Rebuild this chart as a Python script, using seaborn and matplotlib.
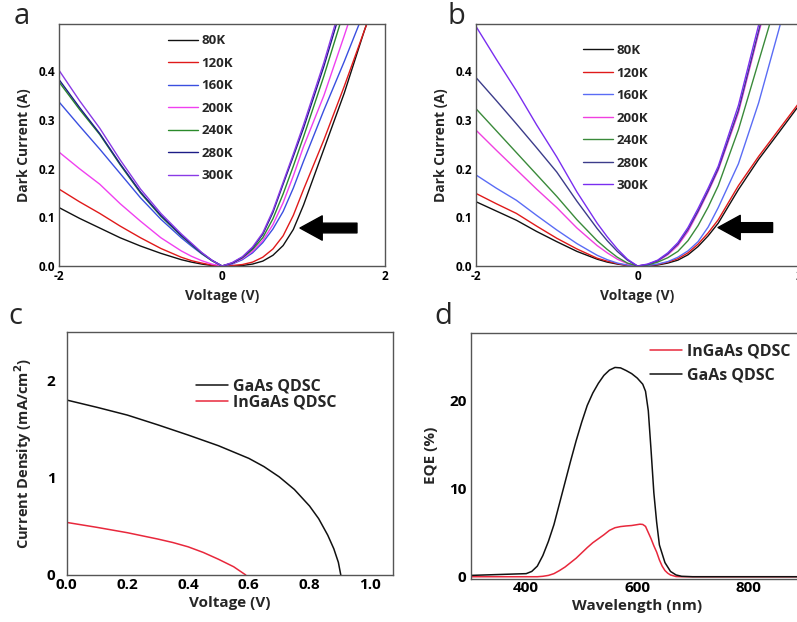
import matplotlib
matplotlib.use('Agg')
import matplotlib.pyplot as plt
import seaborn as sns
import pandas as pd
import numpy as np

sns.set_theme(style='white')
plt.rcParams['font.family'] = ['Open Sans', 'DejaVu Sans']
plt.rcParams['font.weight'] = 'bold'
plt.rcParams['axes.labelweight'] = 'bold'

# ---- data: dark current vs voltage (panels a, b) ----
temps = ['80K', '120K', '160K', '200K', '240K', '280K', '300K']
volts = [-2, -1.75, -1.5, -1.25, -1, -0.75, -0.5, -0.375, -0.25, -0.125, 0,
         0.125, 0.25, 0.375, 0.5, 0.625, 0.75, 0.875, 1.0, 1.25, 1.5, 1.75, 2.0]

dark_a = {
    '80K':  [0.120, 0.098, 0.078, 0.058, 0.041, 0.026, 0.013, 0.008, 0.004, 0.001, 0,
             0.000, 0.001, 0.004, 0.010, 0.022, 0.042, 0.075, 0.125, 0.240, 0.355, 0.485, 0.600],
    '120K': [0.158, 0.132, 0.108, 0.082, 0.058, 0.036, 0.018, 0.011, 0.006, 0.002, 0,
             0.001, 0.003, 0.008, 0.018, 0.035, 0.062, 0.104, 0.157, 0.259, 0.369, 0.485, 0.600],
    '160K': [0.337, 0.288, 0.240, 0.190, 0.140, 0.096, 0.058, 0.041, 0.025, 0.011, 0,
             0.004, 0.013, 0.027, 0.048, 0.076, 0.112, 0.160, 0.215, 0.320, 0.420, 0.525, 0.630],
    '200K': [0.234, 0.200, 0.168, 0.128, 0.092, 0.058, 0.031, 0.020, 0.011, 0.004, 0,
             0.005, 0.015, 0.030, 0.052, 0.085, 0.130, 0.185, 0.245, 0.350, 0.473, 0.600, 0.720],
    '240K': [0.378, 0.322, 0.270, 0.208, 0.150, 0.102, 0.062, 0.044, 0.026, 0.011, 0,
             0.006, 0.017, 0.034, 0.058, 0.097, 0.148, 0.205, 0.265, 0.390, 0.525, 0.660, 0.800],
    '280K': [0.383, 0.326, 0.272, 0.210, 0.152, 0.104, 0.063, 0.045, 0.027, 0.012, 0,
             0.006, 0.018, 0.037, 0.065, 0.110, 0.168, 0.225, 0.283, 0.410, 0.550, 0.690, 0.830],
    '300K': [0.402, 0.340, 0.283, 0.218, 0.158, 0.108, 0.066, 0.047, 0.028, 0.012, 0,
             0.007, 0.019, 0.039, 0.068, 0.114, 0.172, 0.230, 0.290, 0.418, 0.560, 0.700, 0.840],
}

dark_b = {
    '80K':  [0.132, 0.113, 0.094, 0.071, 0.050, 0.030, 0.014, 0.008, 0.004, 0.001, 0,
             0.000, 0.002, 0.006, 0.012, 0.023, 0.040, 0.062, 0.088, 0.157, 0.219, 0.274, 0.330],
    '120K': [0.149, 0.128, 0.108, 0.082, 0.057, 0.035, 0.016, 0.010, 0.005, 0.001, 0,
             0.001, 0.003, 0.008, 0.015, 0.027, 0.045, 0.068, 0.095, 0.165, 0.225, 0.280, 0.335],
    '160K': [0.187, 0.160, 0.135, 0.104, 0.074, 0.046, 0.022, 0.013, 0.006, 0.002, 0,
             0.001, 0.004, 0.009, 0.018, 0.031, 0.050, 0.080, 0.120, 0.210, 0.335, 0.485, 0.640],
    '200K': [0.279, 0.238, 0.198, 0.158, 0.120, 0.078, 0.042, 0.027, 0.014, 0.005, 0,
             0.003, 0.010, 0.023, 0.042, 0.071, 0.110, 0.152, 0.197, 0.315, 0.478, 0.630, 0.780],
    '240K': [0.323, 0.278, 0.233, 0.188, 0.143, 0.095, 0.052, 0.034, 0.018, 0.006, 0,
             0.002, 0.008, 0.017, 0.030, 0.052, 0.083, 0.121, 0.165, 0.280, 0.420, 0.560, 0.700],
    '280K': [0.387, 0.340, 0.292, 0.243, 0.193, 0.133, 0.077, 0.052, 0.030, 0.012, 0,
             0.003, 0.011, 0.025, 0.045, 0.075, 0.113, 0.155, 0.200, 0.320, 0.483, 0.640, 0.790],
    '300K': [0.492, 0.425, 0.360, 0.290, 0.224, 0.152, 0.088, 0.060, 0.035, 0.014, 0,
             0.004, 0.012, 0.027, 0.048, 0.079, 0.118, 0.160, 0.205, 0.330, 0.495, 0.650, 0.800],
}

colors_a = ['#111111', '#e01a1a', '#3a4fe0', '#f040f0', '#2a8a2a', '#1c1c86', '#8a3ae6']
colors_b = ['#111111', '#e01a1a', '#5a6cf5', '#f040e0', '#3a8a3a', '#3c3c8a', '#7a2ef0']

# ---- J-V (panel c) ----
v_gaas = [0, 0.1, 0.2, 0.3, 0.4, 0.5, 0.6, 0.65, 0.7, 0.75, 0.8, 0.83, 0.86, 0.88, 0.895, 0.903]
j_gaas = [1.80, 1.725, 1.645, 1.545, 1.44, 1.33, 1.20, 1.115, 1.01, 0.88, 0.71, 0.58, 0.41, 0.27, 0.13, 0.0]
v_ingaas = [0, 0.1, 0.2, 0.3, 0.35, 0.4, 0.45, 0.5, 0.55, 0.59]
j_ingaas = [0.541, 0.49, 0.435, 0.37, 0.334, 0.29, 0.232, 0.162, 0.085, 0.0]

# ---- EQE (panel d) ----
wl_gaas = [300, 350, 400, 410, 420, 430, 440, 450, 460, 470, 480, 490, 500, 510, 520, 530,
           540, 550, 560, 570, 580, 590, 600, 610, 615, 620, 625, 630, 635, 640, 650, 660,
           670, 680, 700, 750, 800, 850, 900]
eqe_gaas = [0.15, 0.25, 0.35, 0.6, 1.2, 2.4, 4.0, 5.9, 8.3, 10.7, 13.1, 15.4, 17.5, 19.4, 20.8, 21.9,
            22.8, 23.4, 23.7, 23.65, 23.35, 23.0, 22.5, 21.8, 21.0, 18.8, 14.3, 9.5, 6.2, 3.6, 1.6, 0.6,
            0.2, 0.05, 0, 0, 0, 0, 0]
wl_ingaas = [300, 400, 420, 430, 440, 450, 460, 470, 480, 490, 500, 510, 520, 530, 540, 550, 560,
             570, 580, 590, 600, 605, 610, 615, 620, 625, 630, 635, 640, 645, 650, 655, 660, 670,
             680, 700, 900]
eqe_ingaas = [0, 0, 0, 0.05, 0.15, 0.35, 0.7, 1.1, 1.6, 2.1, 2.7, 3.3, 3.85, 4.3, 4.75, 5.25, 5.55,
              5.68, 5.75, 5.8, 5.9, 5.95, 5.92, 5.7, 5.0, 4.3, 3.5, 2.8, 1.9, 1.2, 0.7, 0.4, 0.2, 0.02,
              0, 0, 0]

W, H = 797, 622
fig = plt.figure(figsize=(W / 100, H / 100), dpi=100)


def px_axes(x0, y0, x1, y1):
    return fig.add_axes([x0 / W, 1 - y1 / H, (x1 - x0) / W, (y1 - y0) / H])


def style_axes(ax, tsize):
    for s in ax.spines.values():
        s.set_color('#555555')
        s.set_linewidth(1.0)
    ax.tick_params(direction='in', length=3, width=0.8, colors='#333333',
                   labelsize=tsize, labelcolor='black', pad=3)
    ax.tick_params(which='minor', direction='in', length=2, width=0.8, colors='#333333')
    plt.setp(ax.get_xticklabels() + ax.get_yticklabels(), fontweight='bold')


def dark_panel(ax, data, colors, arrow_tip, arrow_tail, leg_anchor):
    rows = []
    for t in temps:
        for v, i in zip(volts, data[t]):
            rows.append({'V': v, 'I': i, 'T': t})
    df = pd.DataFrame(rows)
    sns.lineplot(data=df, x='V', y='I', hue='T', hue_order=temps, palette=colors,
                 ax=ax, linewidth=1.0, estimator=None)
    ax.set_xlim(-2, 2)
    ax.set_ylim(0, 0.497)
    ax.set_xticks([-2, -1, 0, 1, 2])
    ax.set_xticklabels(['-2', '', '0', '', '2'])
    ax.set_yticks([0, 0.1, 0.2, 0.3, 0.4])
    ax.set_yticklabels(['0.0', '0.1', '0.2', '0.3', '0.4'])
    ax.set_xlabel('Voltage (V)', fontsize=10, fontweight='bold', labelpad=4)
    ax.set_ylabel('Dark Current (A)', fontsize=10, fontweight='bold', labelpad=5)
    style_axes(ax, 8.5)
    ax.legend(loc='upper left', bbox_to_anchor=leg_anchor, frameon=False,
              handlelength=2.3, handletextpad=0.25, labelspacing=0.72,
              borderpad=0, borderaxespad=0,
              prop={'weight': 'bold', 'size': 9.5})
    ax.annotate('', xy=arrow_tip, xytext=arrow_tail,
                arrowprops=dict(arrowstyle='simple,head_length=1.6,head_width=1.75,tail_width=0.7',
                                mutation_scale=10, color='black', shrinkA=0, shrinkB=0))


# panel a
ax_a = px_axes(59, 24, 385, 266)
dark_panel(ax_a, dark_a, colors_a, (0.957, 0.078), (1.656, 0.078), (0.334, 0.958))

# panel b
ax_b = px_axes(476, 24, 799, 266)
dark_panel(ax_b, dark_b, colors_b, (0.997, 0.079), (1.673, 0.079), (0.331, 0.917))

# panel c
ax_c = px_axes(66.7, 332, 393, 575)
dfc = pd.concat([
    pd.DataFrame({'V': v_gaas, 'J': j_gaas, 'S': 'GaAs QDSC'}),
    pd.DataFrame({'V': v_ingaas, 'J': j_ingaas, 'S': 'InGaAs QDSC'}),
])
sns.lineplot(data=dfc, x='V', y='J', hue='S', palette=['#111111', '#e8283c'],
             ax=ax_c, linewidth=1.1, estimator=None)
ax_c.set_xlim(0, 1.075)
ax_c.set_ylim(0, 2.5)
ax_c.set_xticks([0, 0.2, 0.4, 0.6, 0.8, 1.0])
ax_c.set_xticklabels(['0.0', '0.2', '0.4', '0.6', '0.8', '1.0'])
ax_c.set_xticks(np.arange(0.1, 1.05, 0.2), minor=True)
ax_c.set_yticks([0, 1, 2])
ax_c.set_yticks([0.5, 1.5], minor=True)
ax_c.set_xlabel('Voltage (V)', fontsize=11, fontweight='bold', labelpad=3)
ax_c.set_ylabel('Current Density (mA/cm$^\\mathbf{2}$)', fontsize=10.5, fontweight='bold', labelpad=9)
style_axes(ax_c, 11)
ax_c.tick_params(axis='y', pad=8)
ax_c.tick_params(axis='x', pad=2)
ax_c.legend(loc='upper left', bbox_to_anchor=(0.396, 0.81), frameon=False,
            handlelength=2.0, handletextpad=0.3, labelspacing=0.0,
            borderpad=0, borderaxespad=0, prop={'weight': 'bold', 'size': 11.5})

# panel d
ax_d = px_axes(470.7, 333, 803.7, 578.5)
dfd = pd.concat([
    pd.DataFrame({'wl': wl_ingaas, 'EQE': eqe_ingaas, 'S': 'InGaAs QDSC'}),
    pd.DataFrame({'wl': wl_gaas, 'EQE': eqe_gaas, 'S': 'GaAs QDSC'}),
])
sns.lineplot(data=dfd, x='wl', y='EQE', hue='S', palette=['#e8283c', '#111111'],
             ax=ax_d, linewidth=1.1, estimator=None)
ax_d.set_xlim(300, 900)
ax_d.set_ylim(-0.2, 27.6)
ax_d.set_xticks([400, 600, 800])
ax_d.set_xticks([500, 700, 900], minor=True)
ax_d.set_yticks([0, 10, 20])
ax_d.set_yticks([5, 15, 25], minor=True)
ax_d.set_xlabel('Wavelength (nm)', fontsize=11, fontweight='bold', labelpad=3)
ax_d.set_ylabel('EQE (%)', fontsize=11, fontweight='bold', labelpad=8)
style_axes(ax_d, 11)
ax_d.tick_params(axis='x', pad=2)
ax_d.legend(loc='upper left', bbox_to_anchor=(0.538, 0.958), frameon=False,
            handlelength=2.0, handletextpad=0.3, labelspacing=0.5,
            borderpad=0, borderaxespad=0, prop={'weight': 'bold', 'size': 11.5})

# panel letters
for letter, (x, y) in zip('abcd', [(22, 16), (456, 16), (15, 316), (443, 316)]):
    fig.text(x / W, 1 - y / H, letter, fontsize=21, fontweight='normal',
             ha='center', va='center')

fig.savefig('out.png', dpi=100)
